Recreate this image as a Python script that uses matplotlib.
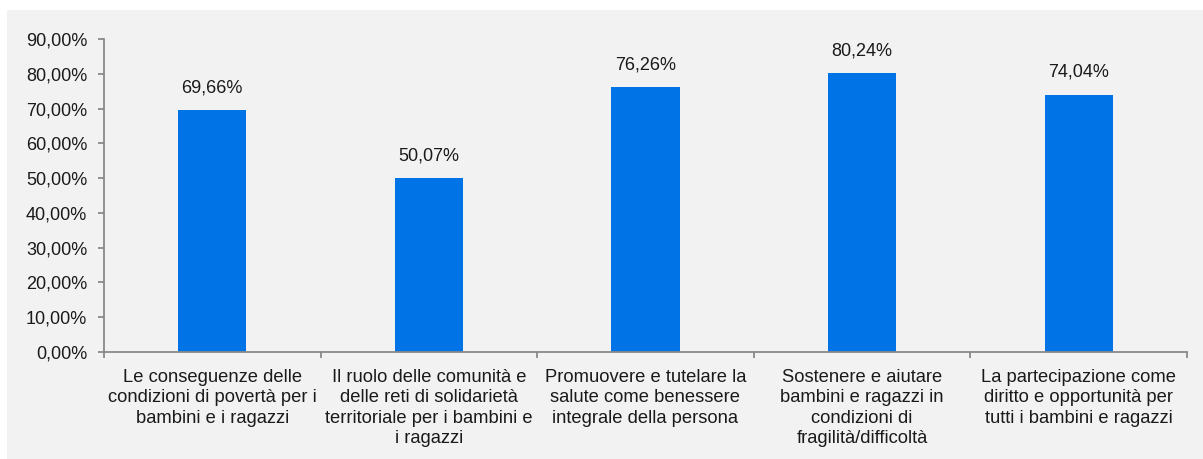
import matplotlib
matplotlib.use("Agg")
import matplotlib.pyplot as plt
from matplotlib.patches import Rectangle
from matplotlib.ticker import FuncFormatter, FixedLocator

plt.rcParams['font.family'] = ['Liberation Sans', 'DejaVu Sans']

categories = [
    "Le conseguenze delle\ncondizioni di povertà per i\nbambini e i ragazzi",
    "Il ruolo delle comunità e\ndelle reti di solidarietà\nterritoriale per i bambini e\ni ragazzi",
    "Promuovere e tutelare la\nsalute come benessere\nintegrale della persona",
    "Sostenere e aiutare\nbambini e ragazzi in\ncondizioni di\nfragilità/difficoltà",
    "La partecipazione come\ndiritto e opportunità per\ntutti i bambini e ragazzi",
]
values = [0.6966, 0.5007, 0.7626, 0.8024, 0.7404]
yticks = [0.0, 0.1, 0.2, 0.3, 0.4, 0.5, 0.6, 0.7, 0.8, 0.9]

W, H = 1203, 459
fig = plt.figure(figsize=(W / 100, H / 100), dpi=100, facecolor='white')
fig.patches.append(Rectangle((7 / W, 0), 1 - 7 / W, (H - 10) / H,
                             transform=fig.transFigure, facecolor='#f2f2f2',
                             edgecolor='none', zorder=-10))

ax = fig.add_axes([104 / W, (H - 352) / H, (1187 - 104) / W, (352 - 39) / H])
ax.set_facecolor('none')

x = list(range(len(values)))
ax.bar(x, values, width=0.315, color='#0073e6', zorder=2)

def pct(v, pos=None):
    return f"{v * 100:.2f}%".replace('.', ',')

for xi, v in zip(x, values):
    ax.annotate(pct(v), (xi, v), xytext=(0, 16), textcoords='offset points',
                ha='center', va='center', fontsize=13, color='#1a1a1a')

ax.set_xlim(-0.5, len(values) - 0.5)
ax.set_ylim(0, 0.9)
ax.set_yticks(yticks)
ax.yaxis.set_major_formatter(FuncFormatter(pct))

ax.xaxis.set_major_locator(FixedLocator([i - 0.5 for i in range(len(values) + 1)]))
ax.xaxis.set_minor_locator(FixedLocator(x))
ax.set_xticklabels([], minor=False)
ax.set_xticklabels(categories, minor=True)
ax.tick_params(axis='x', which='minor', length=0, pad=12, labelsize=13.2)
ax.tick_params(axis='x', which='major', length=4, width=1.3, color='#898989')
ax.tick_params(axis='y', length=4, width=1.3, color='#898989', pad=8, labelsize=13)
for lbl in ax.get_xticklabels(minor=True):
    lbl.set_linespacing(1.27)
    lbl.set_color('#1a1a1a')
for lbl in ax.get_yticklabels():
    lbl.set_color('#1a1a1a')

for s in ['top', 'right']:
    ax.spines[s].set_visible(False)
for s in ['left', 'bottom']:
    ax.spines[s].set_color('#898989')
    ax.spines[s].set_linewidth(1.3)

fig.savefig('out.png', dpi=100, facecolor=fig.get_facecolor())
